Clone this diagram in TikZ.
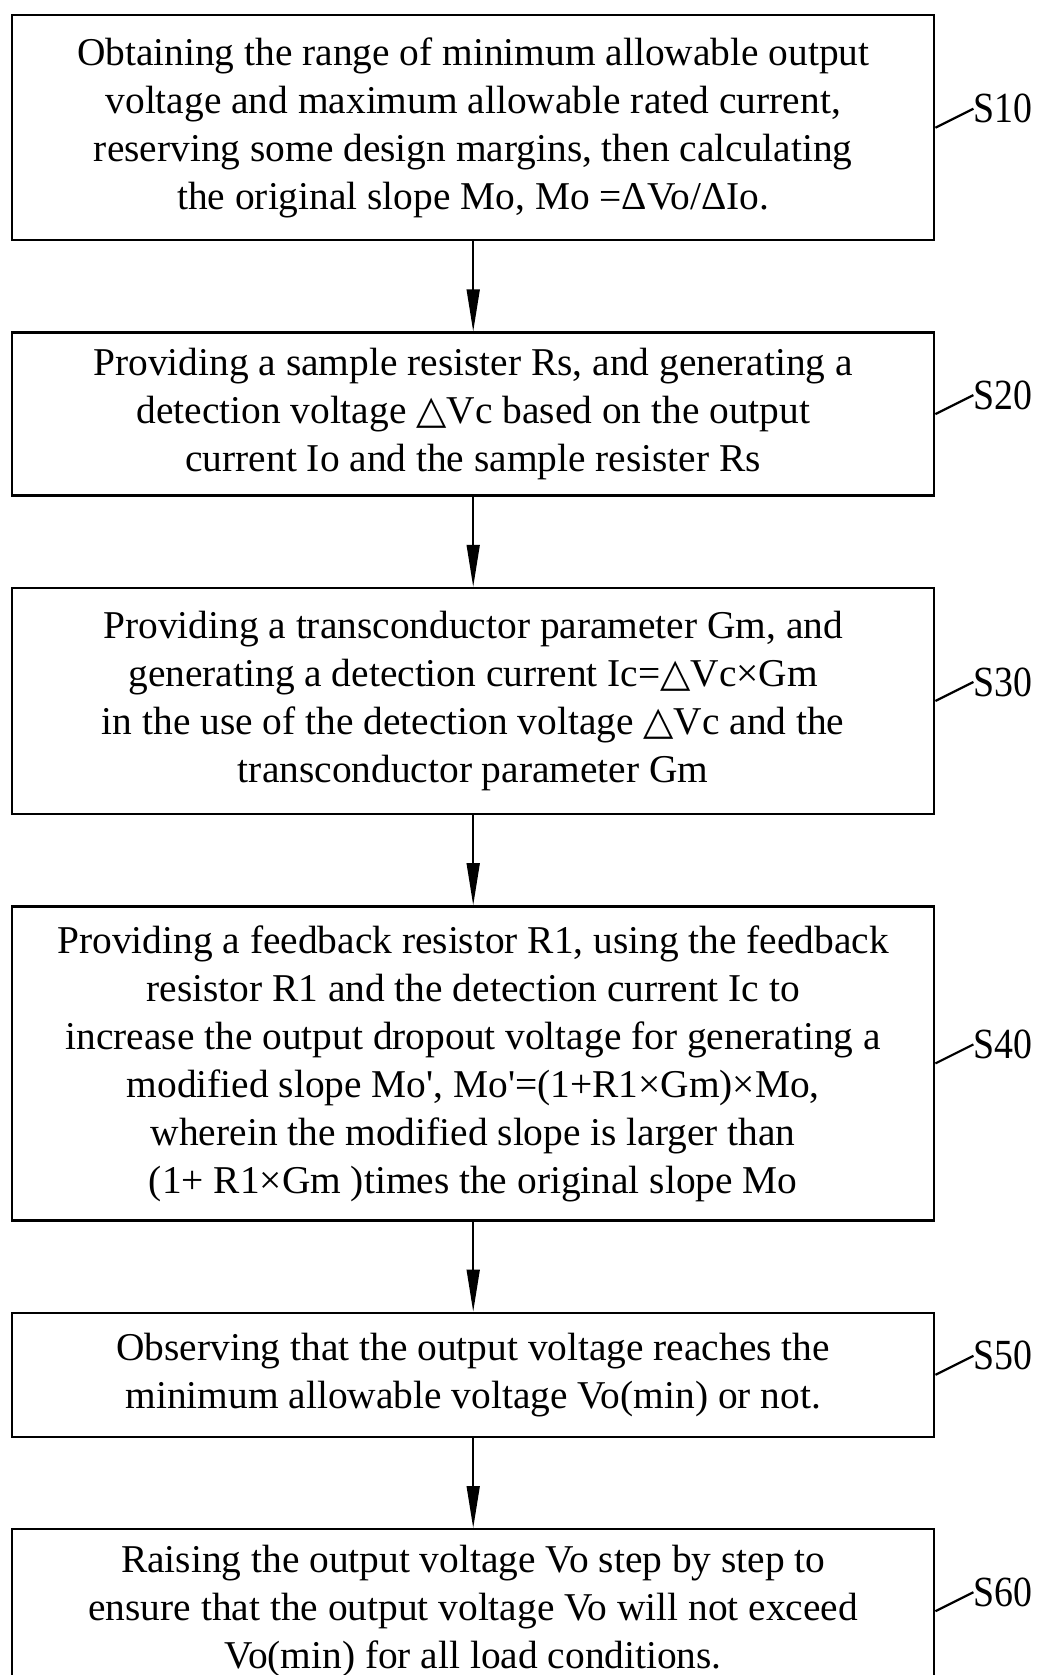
\documentclass[tikz,border=0pt]{standalone}
\usepackage{fontspec}
\setmainfont{Liberation Serif}
\newfontfamily\symfont{DejaVu Sans}
\newfontfamily\labelfont[FakeStretch=0.88]{Liberation Serif}
\usepackage{tikz}
\usetikzlibrary{arrows.meta,positioning,calc}
\newcommand{\tri}{{\symfont\char"25B3}}
\newcommand{\prm}{\textquotesingle}
\tikzstyle{stepbox} = [draw, rectangle, line width=1.2pt, align=center,
    minimum width=461pt, inner sep=0pt,
    font=\fontsize{19.7pt}{24pt}\selectfont]
\tikzstyle{steplabel} = [anchor=west, inner sep=0pt, yshift=1pt,
    font=\labelfont\fontsize{21.5pt}{24pt}\selectfont]
\tikzstyle{connector} = [-{Triangle[length=21pt,width=6.5pt]}, line width=0.8pt]
\tikzstyle{leader} = [line width=1.1pt]

\begin{document}
\begin{tikzpicture}
		\useasboundingbox (0,0) rectangle (519pt,-837.5pt);
		\node[stepbox, anchor=north west, minimum height=112.5pt] (s10) at (5.5pt,-7pt)
			{Obtaining the range of minimum allowable output\\
			 voltage and maximum allowable rated current,\\
			 reserving some design margins, then calculating\\
			 the original slope Mo, Mo =ΔVo/ΔIo.};
		\node[stepbox, below=45pt of s10, minimum height=81.5pt] (s20)
			{Providing a sample resister Rs, and generating a\\
			 detection voltage \tri Vc based on the output\\
			 current Io and the sample resister Rs};
		\node[stepbox, below=45pt of s20, minimum height=113pt] (s30)
			{Providing a transconductor parameter Gm, and\\
			 generating a detection current Ic=\tri Vc×Gm\\
			 in the use of the detection voltage \tri Vc and the\\
			 transconductor parameter Gm};
		\node[stepbox, below=45pt of s30, minimum height=157pt] (s40)
			{Providing a feedback resistor R1, using the feedback\\
			 resistor R1 and the detection current Ic to\\
			 increase the output dropout voltage for generating a\\
			 modified slope Mo\prm, Mo\prm=(1+R1×Gm)×Mo,\\
			 wherein the modified slope is larger than\\
			 (1+ R1×Gm )times the original slope Mo};
		\node[stepbox, below=45pt of s40, minimum height=62pt] (s50)
			{Observing that the output voltage reaches the\\
			 minimum allowable voltage Vo(min) or not.};
		\node[stepbox, below=45pt of s50, minimum height=82pt] (s60)
			{Raising the output voltage Vo step by step to\\
			 ensure that the output voltage Vo will not exceed\\
			 Vo(min) for all load conditions.};

		% step numbers
		\node[steplabel] (l10) at ($(s10.east)+(19pt,8.5pt)$) {S10};
		\node[steplabel] (l20) at ($(s20.east)+(19pt,8.5pt)$) {S20};
		\node[steplabel] (l30) at ($(s30.east)+(19pt,8.5pt)$) {S30};
		\node[steplabel] (l40) at ($(s40.east)+(19pt,8.5pt)$) {S40};
		\node[steplabel] (l50) at ($(s50.east)+(19pt,8.5pt)$) {S50};
		\node[steplabel] (l60) at ($(s60.east)+(19pt,8.5pt)$) {S60};

		\draw[connector] (s10) to (s20);
		\draw[connector] (s20) to (s30);
		\draw[connector] (s30) to (s40);
		\draw[connector] (s40) to (s50);
		\draw[connector] (s50) to (s60);

		\draw[leader] (s10.east) to (l10.west);
		\draw[leader] (s20.east) to (l20.west);
		\draw[leader] (s30.east) to (l30.west);
		\draw[leader] (s40.east) to (l40.west);
		\draw[leader] (s50.east) to (l50.west);
		\draw[leader] (s60.east) to (l60.west);
	\end{tikzpicture}
\end{document}
